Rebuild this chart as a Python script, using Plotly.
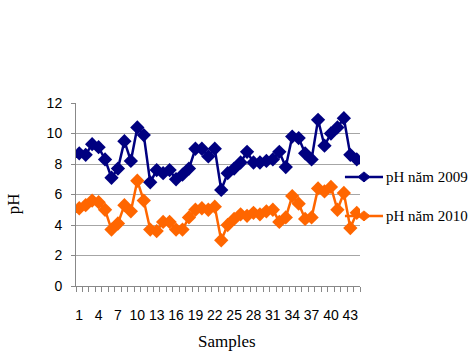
import plotly.graph_objects as go

# pH readings per sample, two survey years
samples = list(range(1, 45))
ph_2009 = [8.7, 8.6, 9.3, 9.1, 8.3, 7.1, 7.7, 9.5, 8.2, 10.4, 9.9, 6.8, 7.6, 7.4, 7.6,
           7.0, 7.3, 7.7, 9.0, 9.0, 8.5, 9.0, 6.3, 7.4, 7.7, 8.1, 8.8, 8.1, 8.1, 8.2,
           8.3, 8.8, 7.8, 9.8, 9.7, 8.7, 8.3, 10.9, 9.2, 10.0, 10.4, 11.0, 8.6, 8.3]
ph_2010 = [5.1, 5.3, 5.6, 5.5, 5.0, 3.7, 4.1, 5.3, 4.9, 6.9, 5.6, 3.7, 3.6, 4.2, 4.2,
           3.7, 3.7, 4.5, 5.0, 5.1, 5.0, 5.2, 3.0, 4.0, 4.4, 4.7, 4.6, 4.8, 4.7, 4.9,
           5.0, 4.2, 4.5, 5.9, 5.4, 4.4, 4.5, 6.4, 6.2, 6.5, 5.0, 6.1, 3.8, 4.8]
series_names = ["pH năm 2009", "pH năm 2010"]
series_colors = ["#000080", "#FF6600"]
label_ticks = list(range(1, 45, 3))
y_ticks = [0, 2, 4, 6, 8, 10, 12]

serif = "Liberation Serif, Times New Roman, serif"
sans = "Liberation Sans, Arial, sans-serif"

fig = go.Figure()
for name, vals, color in zip(series_names, [ph_2009, ph_2010], series_colors):
    fig.add_trace(go.Scatter(
        x=samples, y=vals, name=name, mode="lines+markers",
        line=dict(color=color, width=2.5),
        marker=dict(symbol="diamond", size=11, color=color),
        showlegend=False,
    ))

# white patch behind the key hides the gridlines but not the data
fig.add_shape(type="rect", xref="paper", yref="paper",
              x0=0.905, x1=1.45, y0=0.25, y1=0.69,
              fillcolor="white", line=dict(width=0), layer="between")

# hand-placed key at the right: line sample, diamond, label
key_rows = [0.596, 0.383]
annotations = []
for name, color, ky in zip(series_names, series_colors, key_rows):
    fig.add_shape(type="line", xref="paper", yref="paper",
                  x0=0.947, x1=1.081, y0=ky, y1=ky,
                  line=dict(color=color, width=2.5), layer="above")
    fig.add_shape(type="path", xref="paper", yref="paper",
                  xsizemode="pixel", ysizemode="pixel",
                  xanchor=1.014, yanchor=ky,
                  path="M -6,0 L 0,5 L 6,0 L 0,-5 Z",
                  fillcolor=color, line=dict(color=color, width=1), layer="above")
    annotations.append(dict(
        text=name, xref="paper", yref="paper", x=1.086, y=ky,
        xanchor="left", yanchor="middle", showarrow=False,
        font=dict(family=serif, size=15, color="black")))

annotations += [
    dict(text="Samples", xref="paper", yref="paper", x=0.53, y=-0.305,
         xanchor="center", yanchor="middle", showarrow=False,
         font=dict(family=serif, size=17, color="black")),
    dict(text="pH", xref="paper", yref="paper", x=-0.22, y=0.45,
         xanchor="center", yanchor="middle", showarrow=False, textangle=-90,
         font=dict(family=serif, size=17, color="black")),
]

fig.update_layout(
    width=470, height=353,
    margin=dict(l=76, r=110, t=103, b=67),
    paper_bgcolor="white", plot_bgcolor="white",
    showlegend=False,
    xaxis=dict(
        range=[0.5, 44.5], tickmode="array", tickvals=label_ticks,
        ticktext=[str(v) for v in label_ticks], ticks="",
        showline=True, linecolor="#888888", linewidth=1,
        showgrid=False, zeroline=False,
        tickfont=dict(family=sans, size=14, color="black"),
        ticklabelstandoff=16,
        minor=dict(ticks="outside", tick0=0.5, dtick=1, ticklen=5,
                   tickcolor="#888888", showgrid=False),
    ),
    yaxis=dict(
        range=[0, 12], tickmode="array", tickvals=y_ticks,
        ticks="outside", ticklen=4, tickcolor="#888888",
        showline=True, linecolor="#888888", linewidth=1,
        showgrid=True, gridcolor="#a6a6a6", gridwidth=1, zeroline=False,
        tickfont=dict(family=sans, size=14, color="black"),
        ticklabelstandoff=6,
    ),
    annotations=annotations,
)

fig.write_html("out.html")
